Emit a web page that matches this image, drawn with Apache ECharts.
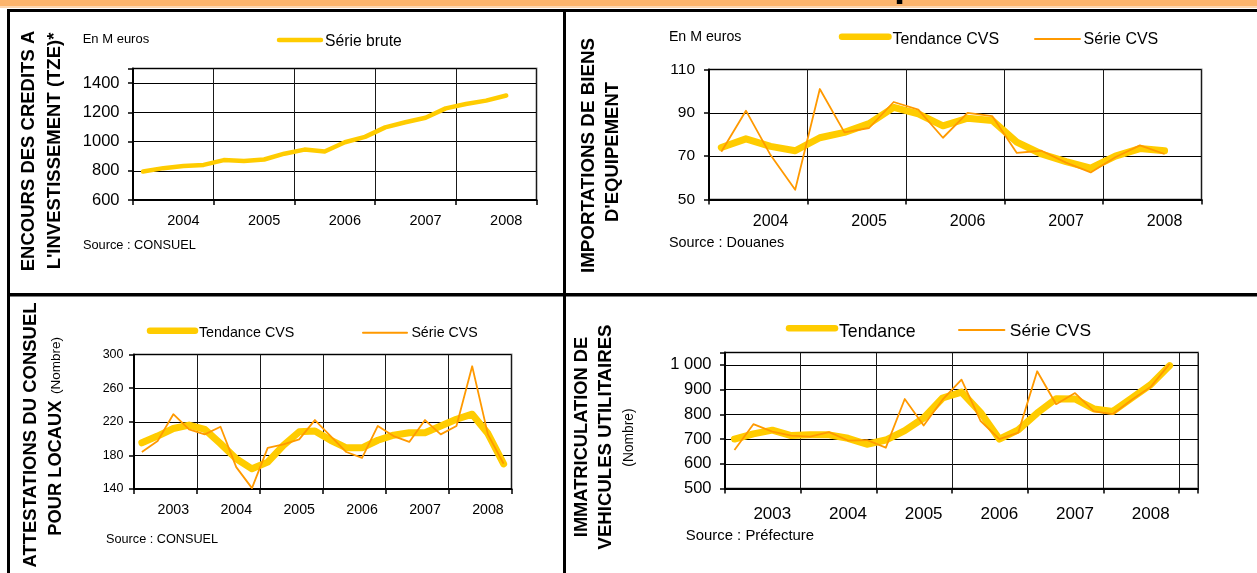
<!DOCTYPE html>
<html>
<head>
<meta charset="utf-8">
<script src="https://cdn.jsdelivr.net/npm/echarts@6/dist/echarts.min.js"></script>
<style>
  html, body { margin: 0; padding: 0; background: #fff; }
  #c { width: 1257px; height: 573px; }
</style>
</head>
<body>
<div id="c"></div>
<script>
// ---- Data ----------------------------------------------------------------
const quarterNames = ['T1', 'T2', 'T3', 'T4'];
const years0408 = ['2004', '2005', '2006', '2007', '2008'];
const years0308 = ['2003', '2004', '2005', '2006', '2007', '2008'];
const extraQuarter = ['2009 T1'];

// Encours des crédits à l'investissement (M euros), série brute
const encoursBrute = [795, 818, 832, 840, 873, 867, 877, 917, 945, 932, 995, 1032, 1097, 1132, 1163, 1227, 1257, 1280, 1315];

// Importations de biens d'équipement (M euros)
const importTendance = [74, 78, 74.5, 72.5, 78.5, 81, 85, 92.5, 89.5, 84, 87.5, 86.5, 76.5, 71, 67.5, 64.5, 70, 73.5, 72.5];
const importSerie = [72, 91, 70.5, 54.5, 101, 81, 83, 95, 91.5, 78.5, 90, 88.5, 71.5, 72.5, 67, 62.5, 69.5, 75, 71];

// Attestations du Consuel pour locaux (nombre)
const attestTendance = [195, 203, 212, 216, 211, 194, 176, 164, 172, 192, 208, 209, 198, 189, 189, 198, 204, 207, 207, 215, 223, 229, 206, 170];
const attestSerie = [184, 197, 229, 211, 205, 214, 166, 141, 189, 193, 199, 222, 203, 184, 177, 215, 203, 196, 222, 205, 215, 286, 205, 170];

// Immatriculation de véhicules utilitaires (nombre)
const immatTendance = [700, 721, 736, 714, 717, 717, 703, 679, 696, 734, 785, 866, 890, 808, 700, 737, 805, 863, 862, 822, 812, 866, 920, 997];
const immatSerie = [656, 760, 730, 714, 710, 728, 694, 696, 665, 862, 755, 859, 940, 774, 700, 726, 974, 841, 886, 812, 801, 859, 911, 1004];

// ---- Helpers -------------------------------------------------------------
const FONT = '"Liberation Sans", Arial, Helvetica, sans-serif';
const YELLOW = '#FFCC00';
const ORANGE = '#FF9900';

function quarters(years) {
  return years.flatMap(y => quarterNames.map(q => y + ' ' + q));
}
const cat1 = quarters(years0408);
const cat2 = quarters(years0408);
const cat3 = quarters(years0308);
const cat4 = quarters(years0308).concat(extraQuarter);

function plain(v) { return String(v); }
function spaced(v) {
  return String(v).replace(/\B(?=(\d{3})+(?!\d))/g, ' ');
}

function xAxisFor(gridIndex, cats, fontSize, margin) {
  return {
    type: 'category', gridIndex: gridIndex, data: cats, boundaryGap: true,
    axisLine: { show: true, lineStyle: { color: '#000', width: 2 } },
    axisTick: { show: true, length: 5, interval: i => i % 4 === 0, lineStyle: { color: '#000', width: 1.5 } },
    splitLine: { show: true, interval: i => i % 4 === 0, lineStyle: { color: '#1a1a1a', width: 1 } },
    axisLabel: {
      interval: i => i % 4 === 2, formatter: v => v.slice(0, 4),
      fontSize: fontSize, margin: margin, color: '#000', fontFamily: FONT
    }
  };
}

function yAxisFor(gridIndex, min, max, interval, fontSize, margin, hidden, fmt) {
  return {
    type: 'value', gridIndex: gridIndex, min: min, max: max, interval: interval,
    axisLine: { show: true, lineStyle: { color: '#000', width: 2 } },
    axisTick: { show: true, length: 5, lineStyle: { color: '#000', width: 1.5 } },
    splitLine: { show: true, lineStyle: { color: '#000', width: 1 } },
    axisLabel: {
      fontSize: fontSize, margin: margin, color: '#000', fontFamily: FONT,
      formatter: v => (v === hidden ? '' : fmt(v))
    }
  };
}

function gridAt(left, top, width, height) {
  return { left: left, top: top, width: width, height: height, show: true,
           borderColor: '#8c8c8c', borderWidth: 2, backgroundColor: 'transparent', containLabel: false };
}

function trend(axis, data, name, width) {
  return { type: 'line', name: name, xAxisIndex: axis, yAxisIndex: axis, data: data, symbol: 'none',
           lineStyle: { color: YELLOW, width: width, cap: 'round', join: 'round' },
           itemStyle: { color: YELLOW }, silent: true, z: 3 };
}
function thin(axis, data, name) {
  return { type: 'line', name: name, xAxisIndex: axis, yAxisIndex: axis, data: data, symbol: 'none',
           lineStyle: { color: ORANGE, width: 1.8, join: 'round' },
           itemStyle: { color: ORANGE }, silent: true, z: 4 };
}

function label(x, y, text, size, extra) {
  return Object.assign({
    type: 'text', x: x, y: y, silent: true,
    style: { text: text, fill: '#000', fontSize: size, fontFamily: FONT, align: 'left', verticalAlign: 'middle' }
  }, extra || {});
}
function vtitle(x, y, text, size, weight) {
  return {
    type: 'text', x: x, y: y, rotation: Math.PI / 2, silent: true,
    style: { text: text, fill: '#000', fontSize: size, fontWeight: weight || 'bold', fontFamily: FONT,
             align: 'center', verticalAlign: 'middle' }
  };
}
function legendLine(x1, x2, y, color, width) {
  return { type: 'line', silent: true, shape: { x1: x1, y1: y, x2: x2, y2: y },
           style: { stroke: color, lineWidth: width, lineCap: 'round' } };
}
function block(x, y, w, h, color) {
  return { type: 'rect', silent: true, shape: { x: x, y: y, width: w, height: h }, style: { fill: color } };
}

// ---- Chart ---------------------------------------------------------------
const chart = echarts.init(document.getElementById('c'), null, { renderer: 'canvas' });

chart.setOption({
  animation: false,
  backgroundColor: '#ffffff',
  textStyle: { fontFamily: FONT },
  grid: [
    gridAt(133, 68.5, 403.5, 131.5),
    gridAt(709, 69.5, 492.5, 130),
    gridAt(134, 354.5, 377.5, 134.5),
    gridAt(725, 352.5, 473, 136)
  ],
  xAxis: [
    xAxisFor(0, cat1, 14.5, 13),
    xAxisFor(1, cat2, 16, 14),
    xAxisFor(2, cat3, 14.2, 14.5),
    xAxisFor(3, cat4, 17, 17)
  ],
  yAxis: [
    yAxisFor(0, 600, 1500, 200, 16.5, 13.5, 1500, plain),
    yAxisFor(1, 50, 110, 20, 15.5, 14, null, plain),
    yAxisFor(2, 140, 300, 40, 12.5, 10.5, null, plain),
    yAxisFor(3, 500, 1050, 100, 16.5, 13.5, 1050, spaced)
  ],
  series: [
    trend(0, encoursBrute, 'Série brute', 4.5),
    trend(1, importTendance, 'Tendance CVS', 7),
    thin(1, importSerie, 'Série CVS'),
    trend(2, attestTendance, 'Tendance CVS', 7),
    thin(2, attestSerie, 'Série CVS'),
    trend(3, immatTendance, 'Tendance', 7),
    thin(3, immatSerie, 'Série CVS')
  ],
  graphic: [
    // page frame
    block(0, 0, 1257, 6.5, '#FCB46C'),
    block(0, 6.5, 1257, 1.5, '#FDD6AE'),
    label(894, 4.5, 'p', 40, { style: { text: 'p', fill: '#000', fontSize: 40, fontWeight: 'bold', fontFamily: FONT, align: 'left', verticalAlign: 'bottom' } }),
    block(7, 9, 1250, 3, '#000'),
    block(7, 9, 3, 564, '#000'),
    block(563, 9, 3, 564, '#000'),
    block(7, 293, 1250, 3.5, '#000'),

    // panel 1
    vtitle(29, 151, 'ENCOURS DES CREDITS A', 18.5),
    vtitle(55, 151, "L'INVESTISSEMENT (TZE)*", 18.5),
    label(82.7, 39, 'En M euros', 13),
    legendLine(279, 321, 40, YELLOW, 4.5),
    label(325, 41.5, 'Série brute', 15.7),
    label(82.9, 245.7, 'Source : CONSUEL', 12.8),

    // panel 2
    vtitle(589, 155.5, 'IMPORTATIONS DE BIENS', 18.8),
    vtitle(613, 152, "D'EQUIPEMENT", 18.5),
    label(668.9, 36.7, 'En M euros', 14.2),
    legendLine(842, 888.5, 36.7, YELLOW, 6.5),
    label(892.4, 39.3, 'Tendance CVS', 16),
    legendLine(1035, 1080, 39, ORANGE, 2),
    label(1083.6, 39.3, 'Série CVS', 16),
    label(668.9, 243.3, 'Source : Douanes', 14.4),

    // panel 3
    vtitle(31, 435, 'ATTESTATIONS DU CONSUEL', 18.5),
    {
      type: 'text', x: 56, y: 436.3, rotation: Math.PI / 2, silent: true,
      style: {
        text: '{b|POUR LOCAUX}  {n|(Nombre)}', fill: '#000', fontFamily: FONT,
        align: 'center', verticalAlign: 'middle',
        rich: {
          b: { fontSize: 18.3, fontWeight: 'bold', fontFamily: FONT, fill: '#000' },
          n: { fontSize: 13.5, fontFamily: FONT, fill: '#000' }
        }
      }
    },
    legendLine(150, 195, 330.7, YELLOW, 6.5),
    label(198.9, 333.3, 'Tendance CVS', 14.3),
    legendLine(363, 407, 332.7, ORANGE, 2),
    label(411.4, 333.3, 'Série CVS', 14.2),
    label(106, 539.3, 'Source : CONSUEL', 12.7),

    // panel 4
    vtitle(582, 437, 'IMMATRICULATION DE', 18.3),
    vtitle(605.5, 437, 'VEHICULES UTILITAIRES', 18.6),
    vtitle(629, 437.5, '(Nombre)', 13.8, 'normal'),
    legendLine(789, 835, 328.3, YELLOW, 6.5),
    label(839, 331.7, 'Tendance', 17.7),
    legendLine(959, 1004.4, 330, ORANGE, 2),
    label(1009.8, 331.7, 'Série CVS', 17.4),
    label(685.8, 535.7, 'Source : Préfecture', 14.9)
  ]
});
</script>
</body>
</html>
